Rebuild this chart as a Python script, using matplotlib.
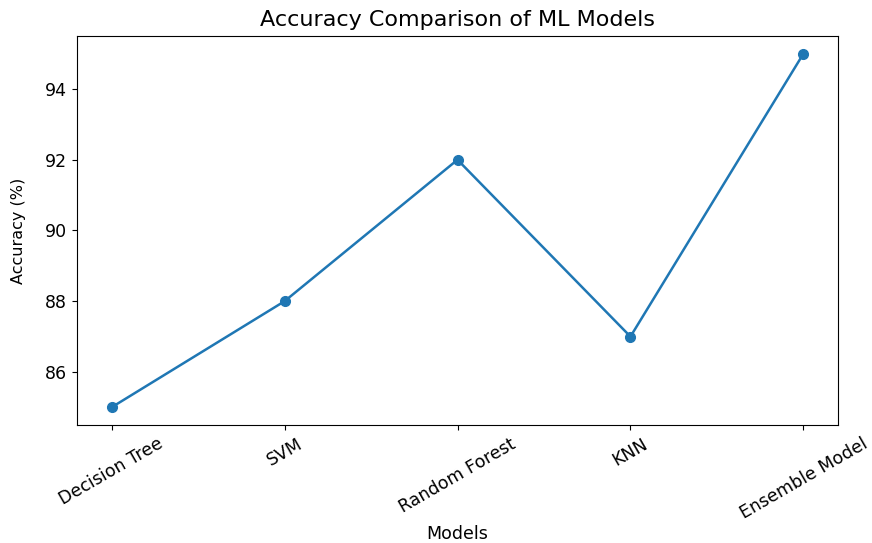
import matplotlib
matplotlib.use("Agg")
import matplotlib.pyplot as plt

models = ["Decision Tree", "SVM", "Random Forest", "KNN", "Ensemble Model"]
accuracy = [85, 88, 92, 87, 95]

fig = plt.figure(figsize=(8.72, 5.43), dpi=100)
ax = fig.add_axes([77/872, 1-425/543, (838-77)/872, (425-36)/543])
ax.plot(models, accuracy, marker="o", color="#1f77b4", linewidth=1.8, markersize=7)
ax.set_title("Accuracy Comparison of ML Models", fontsize=16, pad=7)
ax.set_xlabel("Models", fontsize=12.5, labelpad=2)
ax.set_ylabel("Accuracy (%)", fontsize=11.5, labelpad=14)
ax.tick_params(axis="both", labelsize=12.5)
plt.setp(ax.get_xticklabels(), rotation=30)
fig.savefig("out.png", dpi=100)
